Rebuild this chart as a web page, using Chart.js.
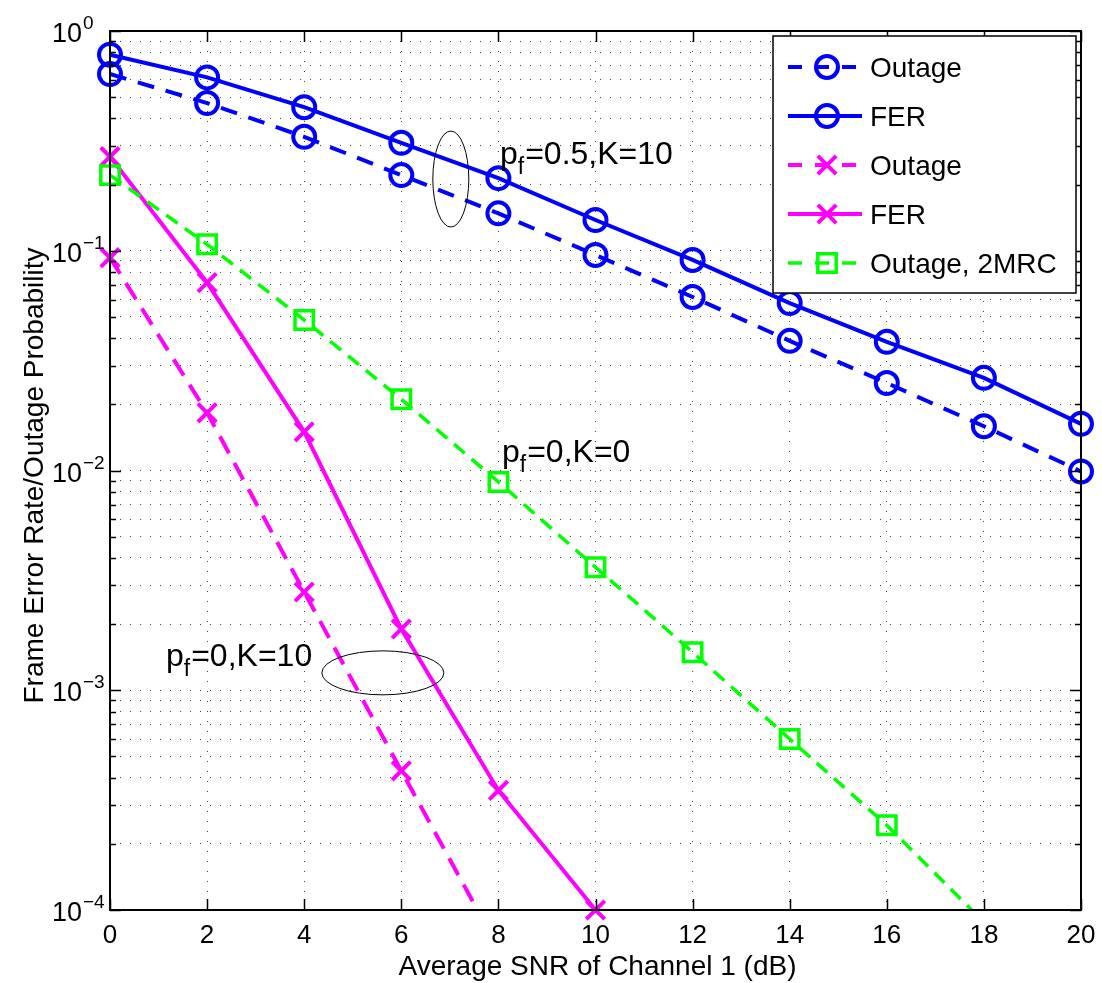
<!DOCTYPE html>
<html>
<head>
<meta charset="utf-8">
<script src="https://cdn.jsdelivr.net/npm/chart.js@4.4.0/dist/chart.umd.min.js"></script>
<style>
  html, body { margin: 0; padding: 0; background: #fff; }
</style>
</head>
<body>
<canvas id="ferChart" width="1102" height="983"></canvas>
<script>
// SNR of channel 1 in dB (x axis)
const snr = [0, 2, 4, 6, 8, 10, 12, 14, 16, 18, 20];

// p_f = 0.5, K = 10
const outagePf05 = [0.637, 0.47, 0.33, 0.221, 0.148, 0.0957, 0.0616, 0.0389, 0.025, 0.0159, 0.0099];
const ferPf05 = [0.78, 0.615, 0.45, 0.31, 0.214, 0.138, 0.0908, 0.0578, 0.0385, 0.0264, 0.0163];

// p_f = 0, K = 10
const outagePf0 = [0.093, 0.0183, 0.0028, 0.00043, 0.000067];
const ferPf0 = [0.268, 0.0716, 0.015, 0.0019, 0.00035, 0.0001];

// p_f = 0, K = 0, 2MRC
const outage2mrc = [0.221, 0.107, 0.0484, 0.0211, 0.00887, 0.00363, 0.00149, 0.0006, 0.000243, 0.000088];

const xTicks = [0, 2, 4, 6, 8, 10, 12, 14, 16, 18, 20];
const yExponents = [0, -1, -2, -3, -4];

const FONT = '"Liberation Sans", Arial, Helvetica, sans-serif';

// log grid: decades plus 2..9 in between
const yGrid = [];
for (let e = -4; e < 0; e++) {
  for (let k = 1; k < 10; k++) yGrid.push(k * Math.pow(10, e));
}
yGrid.push(1);

const pts = arr => arr.map((v, i) => ({ x: snr[i], y: v }));

const ctx = document.getElementById("ferChart").getContext("2d");

// inner ticks, box, tick labels, titles, annotations, legend
const matlabLook = {
  id: 'matlabLook',
  beforeDraw(chart) {
    const c = chart.ctx;
    c.save();
    c.fillStyle = '#fff';
    c.fillRect(0, 0, chart.width, chart.height);
    c.restore();
  },
  afterDraw(chart) {
    const c = chart.ctx;
    const a = chart.chartArea;
    const xs = chart.scales.x, ys = chart.scales.y;
    c.save();

    // box
    c.strokeStyle = '#000';
    c.lineWidth = 2;
    c.setLineDash([]);
    c.strokeRect(a.left, a.top, a.right - a.left, a.bottom - a.top);

    // inner ticks
    c.lineWidth = 1.5;
    c.beginPath();
    xTicks.forEach(t => {
      const px = Math.round(xs.getPixelForValue(t)) + 0.5;
      c.moveTo(px, a.bottom); c.lineTo(px, a.bottom - 11);
      c.moveTo(px, a.top); c.lineTo(px, a.top + 11);
    });
    yGrid.forEach(v => {
      const py = Math.round(ys.getPixelForValue(v)) + 0.5;
      const major = Math.abs(Math.log10(v) - Math.round(Math.log10(v))) < 1e-9;
      const len = major ? 11 : 6;
      c.moveTo(a.left, py); c.lineTo(a.left + len, py);
      c.moveTo(a.right, py); c.lineTo(a.right - len, py);
    });
    c.stroke();

    // x tick labels
    c.fillStyle = '#000';
    c.font = '26px ' + FONT;
    c.textAlign = 'center';
    c.textBaseline = 'alphabetic';
    xTicks.forEach(t => c.fillText(String(t), xs.getPixelForValue(t), a.bottom + 33));

    // y tick labels 10^e
    yExponents.forEach(e => {
      const py = ys.getPixelForValue(Math.pow(10, e));
      c.textAlign = 'left';
      c.font = '27px ' + FONT;
      c.fillText('10', a.left - 58, py + 11);
      c.font = '19px ' + FONT;
      c.fillText(e === 0 ? '0' : '\u2212' + Math.abs(e), a.left - 27, py - 2);
    });

    // axis titles
    c.font = '28px ' + FONT;
    c.textAlign = 'center';
    c.fillText('Average SNR of Channel 1 (dB)', (a.left + a.right) / 2 + 2, a.bottom + 65);
    c.save();
    c.translate(43, (a.top + a.bottom) / 2 + 5);
    c.rotate(-Math.PI / 2);
    c.fillText('Frame Error Rate/Outage Probability', 0, 0);
    c.restore();

    // ellipses
    c.strokeStyle = '#000';
    c.lineWidth = 1;
    const ell = (xv, yv, rx, ry) => {
      c.beginPath();
      c.ellipse(xs.getPixelForValue(xv), ys.getPixelForValue(yv), rx, ry, 0, 0, Math.PI * 2);
      c.stroke();
    };
    ell(7.02, 0.212, 18, 48);
    ell(5.62, 0.0012, 61, 22);

    // p_f labels
    const pf = (x, y, rest) => {
      c.textAlign = 'left';
      c.font = '32px ' + FONT;
      c.fillText('p', x, y);
      let w = c.measureText('p').width;
      c.font = '23px ' + FONT;
      c.fillText('f', x + w, y + 10);
      w += c.measureText('f').width + 1;
      c.font = '32px ' + FONT;
      c.fillText(rest, x + w, y);
    };
    pf(500, 164, '=0.5,K=10');
    pf(502, 462, '=0,K=0');
    pf(166, 666, '=0,K=10');

    // legend
    const lx = 773, ly = 36, lw = 303, lh = 257;
    c.fillStyle = '#fff';
    c.fillRect(lx, ly, lw, lh);
    c.strokeStyle = '#000';
    c.lineWidth = 1.5;
    c.strokeRect(lx, ly, lw, lh);
    chart.data.datasets.forEach((ds, i) => {
      const cy = 67 + i * 49;
      c.strokeStyle = ds.borderColor;
      c.lineWidth = ds.borderWidth;
      c.beginPath();
      if (ds.borderDash && ds.borderDash.length) {
        c.setLineDash([14, 13]);
        c.moveTo(788, cy); c.lineTo(856, cy);
      } else {
        c.setLineDash([]);
        c.moveTo(788, cy); c.lineTo(862, cy);
      }
      c.stroke();
      c.setLineDash([]);
      c.fillStyle = 'rgba(0,0,0,0)';
      c.strokeStyle = ds.pointBorderColor;
      c.lineWidth = ds.pointBorderWidth;
      Chart.helpers.drawPoint(c, {
        pointStyle: ds.pointStyle, radius: ds.pointRadius, borderWidth: ds.pointBorderWidth, rotation: 0
      }, 827, cy);
      c.fillStyle = '#000';
      c.font = '28px ' + FONT;
      c.textAlign = 'left';
      c.fillText(ds.label, 870, cy + 10);
    });

    c.restore();
  }
};

const blue = '#0000ff', magenta = '#ff00ff', green = '#00ff00';

new Chart(ctx, {
  type: 'line',
  data: {
    datasets: [
      {
        label: 'Outage', data: pts(outagePf05),
        borderColor: blue, borderWidth: 4, borderDash: [17, 12],
        pointStyle: 'circle', pointRadius: 11, pointBorderWidth: 4,
        pointBorderColor: blue, pointBackgroundColor: 'rgba(0,0,0,0)',
        clip: { left: 20, right: 20, top: 20, bottom: 20 }, order: 5
      },
      {
        label: 'FER', data: pts(ferPf05),
        borderColor: blue, borderWidth: 4, borderDash: [],
        pointStyle: 'circle', pointRadius: 11, pointBorderWidth: 4,
        pointBorderColor: blue, pointBackgroundColor: 'rgba(0,0,0,0)',
        clip: { left: 20, right: 20, top: 20, bottom: 20 }, order: 4
      },
      {
        label: 'Outage', data: pts(outagePf0),
        borderColor: magenta, borderWidth: 4, borderDash: [19, 11],
        pointStyle: 'crossRot', pointRadius: 13, pointBorderWidth: 4,
        pointBorderColor: magenta,
        clip: { left: 20, right: 20, top: 20, bottom: 0 }, order: 3
      },
      {
        label: 'FER', data: pts(ferPf0),
        borderColor: magenta, borderWidth: 4, borderDash: [],
        pointStyle: 'crossRot', pointRadius: 13, pointBorderWidth: 4,
        pointBorderColor: magenta,
        clip: { left: 20, right: 20, top: 20, bottom: 20 }, order: 2
      },
      {
        label: 'Outage, 2MRC', data: pts(outage2mrc),
        borderColor: green, borderWidth: 3.5, borderDash: [14, 9],
        pointStyle: 'rect', pointRadius: 13, pointBorderWidth: 3.5,
        pointBorderColor: green, pointBackgroundColor: 'rgba(0,0,0,0)',
        clip: { left: 20, right: 20, top: 20, bottom: 0 }, order: 1
      }
    ]
  },
  options: {
    responsive: false,
    animation: false,
    events: [],
    layout: { padding: { left: 110, right: 21, top: 31, bottom: 73 } },
    elements: { line: { tension: 0, fill: false } },
    plugins: {
      legend: { display: false },
      tooltip: { enabled: false },
      title: { display: false }
    },
    scales: {
      x: {
        type: 'linear', min: 0, max: 20,
        ticks: { display: false, stepSize: 2 },
        grid: { color: '#444', lineWidth: 1, drawTicks: false },
        border: { display: false, dash: [1, 9] }
      },
      y: {
        type: 'logarithmic', min: 1e-4, max: 1,
        afterBuildTicks: scale => { scale.ticks = yGrid.map(v => ({ value: v })); },
        ticks: { display: false },
        grid: { color: '#444', lineWidth: 1, drawTicks: false },
        border: { display: false, dash: [1, 9] }
      }
    }
  },
  plugins: [matlabLook]
});
</script>
</body>
</html>
